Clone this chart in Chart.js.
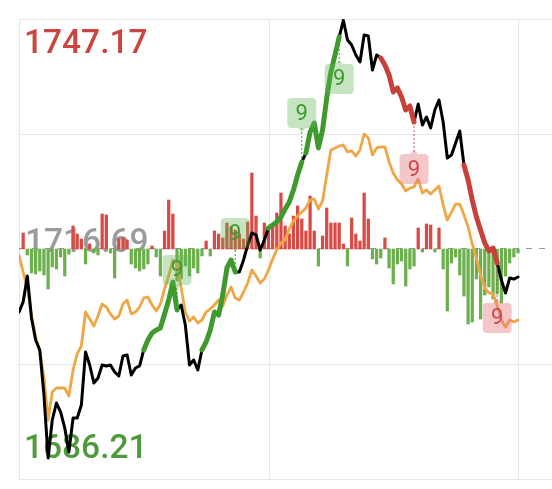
<!DOCTYPE html>
<html>
<head>
<meta charset="utf-8">
<script src="https://cdn.jsdelivr.net/npm/chart.js@4/dist/chart.umd.min.js"></script>
<style>
  html, body { margin: 0; padding: 0; background: #fff; }
  canvas { display: block; }
</style>
</head>
<body>
<canvas id="chart" width="552" height="489"></canvas>
<script>
// axis levels (previous close in the middle)
const yMax = 1747.17;
const preClose = 1716.69;
const yMin = 1686.21;
const tickLabels = ['1747.17', '1716.69', '1686.21'];

// minute price, one point per bar
const price = [
  1708.34, 1709.67, 1713.11, 1707.55, 1704.63, 1703.31, 1697.34, 1688.99, 1694.03, 1696.28,
  1695.09, 1692.97, 1689.79, 1694.29, 1694.29, 1696.02, 1703.04, 1701.32, 1698.93, 1699.60,
  1701.32, 1701.19, 1701.32, 1700.39, 1699.86, 1702.51, 1702.64, 1699.99, 1700.92, 1701.19,
  1703.31, 1704.63, 1705.56, 1705.96, 1706.22, 1708.08, 1709.93, 1712.32, 1708.61, 1709.27,
  1706.62, 1701.32, 1701.98, 1700.66, 1703.31, 1704.37, 1705.96, 1708.34, 1707.94, 1710.59,
  1714.17, 1715.23, 1713.64, 1713.64, 1715.23, 1717.22, 1718.81, 1718.55, 1716.56, 1717.88,
  1719.47, 1719.87, 1720.27, 1720.93, 1721.99, 1722.92, 1724.51, 1726.50, 1728.22, 1729.41,
  1732.20, 1733.39, 1730.08, 1732.46, 1736.70, 1740.15, 1742.40, 1744.78, 1747.00, 1744.39,
  1743.72, 1742.40, 1741.47, 1745.05, 1744.92, 1740.41, 1742.40, 1742.00, 1741.07, 1739.75,
  1737.50, 1738.03, 1736.83, 1735.11, 1735.64, 1733.52, 1735.91, 1733.12, 1734.18, 1732.73,
  1735.11, 1736.44, 1733.52, 1728.75, 1729.15, 1730.74, 1732.33, 1727.82, 1725.83, 1723.18,
  1720.93, 1719.21, 1717.49, 1716.43, 1716.82, 1714.84, 1712.58, 1710.86, 1712.85, 1712.71,
  1712.98
];

// average price line
const avgPrice = [
  1715.90, 1713.64, 1711.65, 1707.94, 1705.03, 1703.04, 1699.73, 1694.03, 1697.74, 1698.27,
  1698.27, 1698.27, 1697.21, 1700.66, 1702.78, 1703.84, 1708.34, 1707.41, 1706.49, 1707.81,
  1709.40, 1709.00, 1708.08, 1707.41, 1707.81, 1709.40, 1709.93, 1708.08, 1708.34, 1709.00,
  1710.20, 1710.33, 1709.27, 1708.47, 1709.40, 1711.39, 1713.11, 1715.23, 1714.57, 1711.52,
  1708.34, 1707.15, 1707.68, 1706.88, 1707.28, 1708.34, 1708.74, 1709.27, 1709.93, 1709.14,
  1710.59, 1711.65, 1710.20, 1709.93, 1710.99, 1712.18, 1713.91, 1713.11, 1712.18, 1712.71,
  1713.91, 1715.37, 1716.56, 1717.49, 1717.88, 1719.34, 1720.40, 1721.06, 1721.59, 1722.12,
  1723.18, 1723.32, 1721.99, 1723.05, 1726.50, 1729.81, 1730.08, 1730.34, 1730.47, 1729.55,
  1729.68, 1729.01, 1729.81, 1731.93, 1731.40, 1729.15, 1730.08, 1730.21, 1730.21, 1728.22,
  1726.76, 1725.83, 1725.30, 1724.38, 1724.77, 1724.91, 1725.97, 1724.11, 1724.51, 1723.98,
  1724.51, 1725.04, 1722.52, 1720.53, 1721.59, 1722.65, 1722.65, 1721.20, 1719.61, 1717.35,
  1715.50, 1713.24, 1711.52, 1710.86, 1710.73, 1709.14, 1707.28, 1706.35, 1707.28, 1707.02,
  1707.28
];

// up / down bars around the previous close
const netFlow = [
    0,  16,  -6, -24, -25, -22, -26, -40, -18, -20,
   -8, -27,  -5,  23,  15,  10, -15,   5,  -4,  -6,
   35,  34,  -4, -29,  10,  11,   9, -15, -19, -22,
  -20, -15,   3,  -8, -27,  18,  49,  35, -32, -30,
  -17, -27, -19, -24,  -7,   8,  -7,  18,  15,  11,
   26,  22,  19,  15,  10,  27,  76,  33,  -9,  26,
   21,  25,  36,  56,  23,  15,  33,  43,  30,  18,
   53,  18, -17,  13,  41,  26,  26,  26,   5, -17,
   31,  15,   8,  56,  30, -10, -15,  -9,  11, -19,
  -35, -15, -12, -37, -20, -17,  21,  -3,  25,  24,
   -3,  21, -20, -62, -14,  -8, -26, -47, -75, -73,
  -30, -70, -46, -38, -50, -45, -54, -27, -14,  -8,
   -4
];

// nine-count runs on the price line (index ranges)
const greenRunsA = [[30, 38], [60, 68]];
const greenRunsB = [[44, 52], [69, 77]];
const redRuns = [[87, 95], [107, 115]];

// "9" markers: bar index, box centre level, side
const nineIdx = [38, 52, 68, 77, 95, 115];
const nineBox = [1713.91, 1718.81, 1734.71, 1739.22, 1727.29, 1707.55];
const nineSide = ['buy', 'buy', 'buy', 'buy', 'sell', 'sell'];

const lastIdx = price.length - 1;
const xMax = lastIdx * 533 / 499;

const pts = (arr) => arr.map((v, i) => ({ x: i, y: v }));
const runSeries = (runs) => price.map((v, i) =>
  ({ x: i, y: runs.some(([a, b]) => i >= a && i <= b) ? v : null }));

const backdrop = {
  id: 'backdrop',
  beforeDatasetsDraw(chart) {
    const { ctx, chartArea: a, scales: { x, y } } = chart;
    ctx.save();
    ctx.strokeStyle = '#e6e6e6';
    ctx.lineWidth = 1;
    [0, lastIdx / 2, lastIdx].forEach(v => {
      const px = Math.round(x.getPixelForValue(v)) + 0.5;
      ctx.beginPath(); ctx.moveTo(px, a.top); ctx.lineTo(px, a.bottom); ctx.stroke();
    });
    const q = (yMax - preClose) / 2;
    [yMax, yMax - q, yMin + q, yMin].forEach(v => {
      const py = Math.round(y.getPixelForValue(v)) + 0.5;
      ctx.beginPath(); ctx.moveTo(a.left, py); ctx.lineTo(a.right, py); ctx.stroke();
    });
    const mid = Math.round(y.getPixelForValue(preClose)) - 0.5;
    ctx.strokeStyle = '#9a9a9a';
    ctx.setLineDash([6, 7]);
    ctx.beginPath(); ctx.moveTo(a.left, mid); ctx.lineTo(a.right, mid); ctx.stroke();
    ctx.setLineDash([]);

    ctx.font = '500 33.5px Roboto';
    ctx.textBaseline = 'alphabetic';
    ctx.fillStyle = '#c9453f';
    ctx.fillText(tickLabels[0], 24, 53);
    ctx.fillStyle = '#9b9b9b';
    ctx.fillText(tickLabels[1], 25, 252);
    ctx.fillStyle = '#4f9a3a';
    ctx.fillText(tickLabels[2], 24, 458);
    ctx.restore();
  }
};

const nineMarks = {
  id: 'nineMarks',
  afterDatasetsDraw(chart) {
    const { ctx, scales: { x, y } } = chart;
    ctx.save();
    nineIdx.forEach((idx, k) => {
      const buy = nineSide[k] === 'buy';
      const fill = buy ? 'rgba(96,180,84,0.36)' : 'rgba(226,118,124,0.42)';
      const ink = buy ? '#3f9a2e' : '#cf4650';
      const cx = x.getPixelForValue(idx);
      const cy = y.getPixelForValue(nineBox[k]);
      const py = y.getPixelForValue(price[idx]);
      const w = 29, h = 30, r = 4;
      const below = py < cy;
      const edge = below ? cy - h / 2 : cy + h / 2;
      // connector
      ctx.strokeStyle = ink;
      ctx.globalAlpha = 0.8;
      ctx.lineWidth = 1.2;
      ctx.setLineDash([2, 2]);
      ctx.beginPath(); ctx.moveTo(cx, py); ctx.lineTo(cx, edge); ctx.stroke();
      ctx.setLineDash([]);
      ctx.globalAlpha = 1;
      // box
      ctx.fillStyle = fill;
      ctx.beginPath();
      ctx.roundRect(cx - w / 2, cy - h / 2, w, h, r);
      ctx.fill();
      ctx.beginPath();
      const d = below ? -1 : 1;
      ctx.moveTo(cx - 4, edge); ctx.lineTo(cx, edge + d * 4); ctx.lineTo(cx + 4, edge);
      ctx.closePath(); ctx.fill();
      // label
      ctx.fillStyle = ink;
      ctx.font = '400 22px Roboto';
      ctx.textAlign = 'center';
      ctx.textBaseline = 'middle';
      ctx.fillText('9', cx, cy + 1);
    });
    ctx.restore();
  }
};

const lineBase = { type: 'line', pointRadius: 0, tension: 0, borderJoinStyle: 'round', borderCapStyle: 'round', yAxisID: 'y' };

new Chart(document.getElementById('chart').getContext('2d'), {
  data: {
    datasets: [
      {
        type: 'bar',
        data: pts(netFlow),
        yAxisID: 'yv',
        barThickness: 2.6,
        backgroundColor: netFlow.map(v => v >= 0 ? '#d94a44' : '#6cb04e'),
        order: 6
      },
      { ...lineBase, data: pts(avgPrice), borderColor: '#f0a645', borderWidth: 2.8, order: 5 },
      { ...lineBase, data: pts(price), borderColor: '#000000', borderWidth: 3, order: 4 },
      { ...lineBase, data: runSeries(greenRunsA), borderColor: '#3f9a2e', borderWidth: 5, order: 3 },
      { ...lineBase, data: runSeries(greenRunsB), borderColor: '#3f9a2e', borderWidth: 5, order: 2 },
      { ...lineBase, data: runSeries(redRuns), borderColor: '#c9403a', borderWidth: 5, order: 1 }
    ]
  },
  options: {
    responsive: false,
    animation: false,
    layout: { padding: { left: 19, top: 19, right: 0, bottom: 10 } },
    plugins: { legend: { display: false }, tooltip: { enabled: false } },
    scales: {
      x: { type: 'linear', min: 0, max: xMax, offset: false, display: false },
      y: { type: 'linear', min: yMin, max: yMax, display: false },
      yv: { type: 'linear', min: -230, max: 230, display: false }
    }
  },
  plugins: [backdrop, nineMarks]
});
</script>
</body>
</html>
